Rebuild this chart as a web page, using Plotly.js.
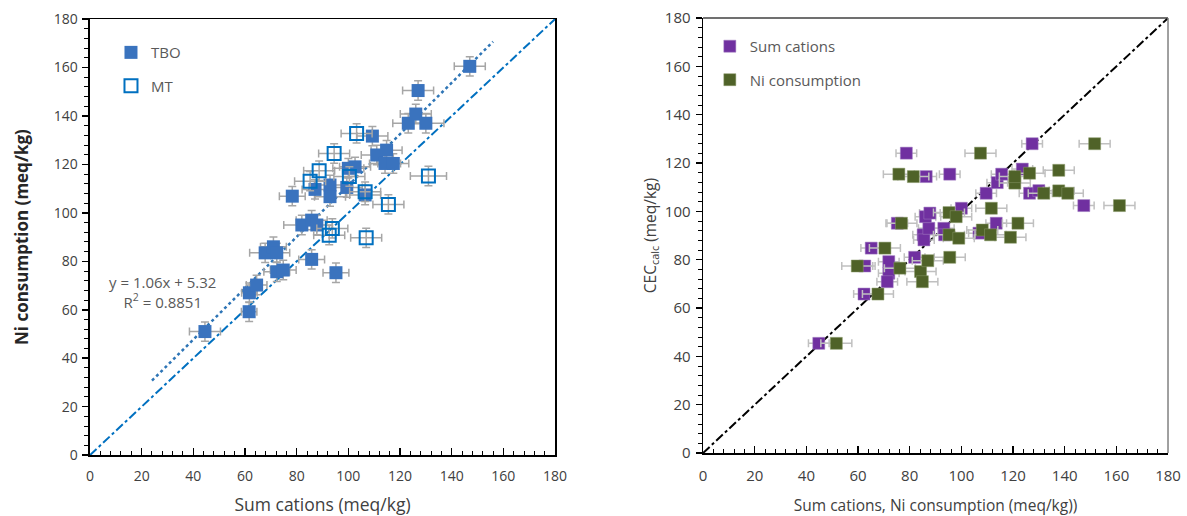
<!DOCTYPE html>
<html>
<head>
<meta charset="utf-8">
<script src="https://cdn.plot.ly/plotly-3.0.1.min.js"></script>
<style>html,body{margin:0;padding:0;background:#fff;}#chart{width:1187px;height:516px;}</style>
</head>
<body>
<div id="chart"></div>
<script>
// ---- Left panel: Ni consumption vs Sum cations ----
const tboSum = [44.5, 61.6, 61.7, 64.5, 67.8, 71.0, 72.3, 72.3, 74.8, 78.3, 82.0, 85.8, 87.8, 85.8, 95.2, 87.1, 92.9, 92.9, 99.4, 106.5, 100.0, 102.6, 109.3, 111.0, 114.8, 114.2, 117.4, 123.2, 126.1, 130.0, 127.0, 147.0];
const tboNi  = [51.0, 59.2, 67.0, 70.2, 83.5, 86.0, 83.5, 75.7, 76.4, 106.9, 95.0, 97.0, 95.0, 80.8, 75.3, 109.7, 111.5, 106.7, 110.5, 107.4, 118.4, 119.0, 131.7, 123.9, 125.9, 120.4, 120.4, 137.0, 140.8, 137.0, 150.5, 160.5];
const tboSumErr = [6, 3, 3, 4, 6, 5, 5, 5, 5, 5, 7, 6, 6, 5, 5, 5, 6, 6, 6, 6, 6, 6, 6, 6, 6, 6, 6, 6, 6, 7, 6, 6];
const tboNiErr  = [4, 4, 4, 4, 4, 4, 4, 4, 4, 4, 4, 4, 4, 4, 4, 4, 4, 4, 4, 4, 4, 4, 4, 4, 4, 4, 4, 4, 4, 4, 4, 4];
const mtSum = [85.2, 88.7, 94.5, 103.2, 100.4, 106.5, 115.5, 131.0, 93.8, 92.6, 106.9];
const mtNi  = [113.1, 117.4, 124.5, 132.8, 115.0, 108.7, 103.5, 115.2, 93.6, 90.8, 89.7];
const mtSumErr = [6, 6, 6, 6, 6, 6, 6, 7, 6, 6, 6];
const mtNiErr  = [4, 4, 4, 4, 4, 4, 4, 4, 4, 4, 4];
const trendSlope = 1.06, trendIntercept = 5.32, trendR2 = 0.8851;
const trendX = [24, 156];
const oneToOne = [0, 180];

// ---- Right panel: CEC_calc vs Sum cations / Ni consumption ----
const cecSumX = [44.8, 62.3, 62.6, 65.1, 71.9, 71.9, 71.3, 75.2, 78.7, 81.9, 85.2, 85.5, 87.4, 86.1, 87.8, 86.4, 93.2, 93.5, 95.5, 100.0, 106.8, 109.6, 113.5, 113.9, 115.6, 123.6, 126.4, 130.0, 127.4, 147.4];
const cecSumY = [45.4, 65.8, 77.4, 84.8, 79.2, 74.4, 70.9, 95.1, 124.1, 81.0, 90.3, 88.2, 93.0, 97.8, 99.3, 114.4, 93.0, 90.3, 115.4, 101.3, 91.0, 107.5, 95.1, 111.9, 115.4, 117.5, 107.5, 108.6, 128.0, 102.4];
const cecNiX = [51.6, 67.7, 59.7, 70.4, 76.2, 84.2, 84.9, 76.8, 107.4, 87.0, 95.5, 95.2, 99.0, 95.2, 98.0, 81.4, 75.8, 111.6, 108.1, 111.3, 119.0, 121.9, 120.7, 120.7, 126.4, 137.7, 131.9, 137.7, 141.2, 151.6, 161.2];
const cecNiY = [45.4, 65.8, 77.4, 84.8, 76.5, 75.1, 70.9, 95.1, 124.1, 79.6, 81.0, 90.3, 88.9, 99.5, 97.8, 114.4, 115.4, 101.3, 92.3, 90.3, 89.3, 95.1, 111.7, 114.4, 115.8, 117.0, 107.5, 108.5, 107.5, 128.0, 102.4];
const cecSumErr = 4;
const cecNiErr = 6;

const FONT = 'Open Sans, Noto Sans, sans-serif';
const errStyle = {color: '#a6a6a6', thickness: 1.5, width: 4};

const traces = [
  {x: trendX, y: trendX.map(v => trendSlope * v + trendIntercept), xaxis: 'x', yaxis: 'y', mode: 'lines',
   line: {color: '#2E75B6', width: 2.5, dash: 'dot'}, showlegend: false, hoverinfo: 'skip'},
  {x: oneToOne, y: oneToOne, xaxis: 'x', yaxis: 'y', mode: 'lines',
   line: {color: '#0070C0', width: 2, dash: 'dashdot'}, showlegend: false, hoverinfo: 'skip'},
  {name: 'TBO', x: tboSum, y: tboNi, xaxis: 'x', yaxis: 'y', type: 'scatter', mode: 'markers',
   marker: {symbol: 'square', size: 13, color: '#3A73BE'},
   error_x: Object.assign({type: 'data', array: tboSumErr}, errStyle),
   error_y: Object.assign({type: 'data', array: tboNiErr}, errStyle),
   legend: 'legend', legendgroup: 'a'},
  {name: 'MT', x: mtSum, y: mtNi, xaxis: 'x', yaxis: 'y', type: 'scatter', mode: 'markers',
   marker: {symbol: 'square-open', size: 13, color: '#0070C0', line: {width: 2, color: '#0070C0'}},
   error_x: Object.assign({type: 'data', array: mtSumErr}, errStyle),
   error_y: Object.assign({type: 'data', array: mtNiErr}, errStyle),
   legend: 'legend', legendgroup: 'b'},
  {x: oneToOne, y: oneToOne, xaxis: 'x2', yaxis: 'y2', mode: 'lines',
   line: {color: '#000000', width: 2, dash: 'dashdot'}, showlegend: false, hoverinfo: 'skip'},
  {name: 'Sum cations', x: cecSumX, y: cecSumY, xaxis: 'x2', yaxis: 'y2', type: 'scatter', mode: 'markers',
   marker: {symbol: 'square', size: 12, color: '#7030A0', line: {width: 0.5, color: '#a07cc0'}},
   error_x: Object.assign({type: 'constant', value: cecSumErr}, errStyle, {color: '#c0c0c0'}),
   legend: 'legend2', legendgroup: 'c'},
  {name: 'Ni consumption', x: cecNiX, y: cecNiY, xaxis: 'x2', yaxis: 'y2', type: 'scatter', mode: 'markers',
   marker: {symbol: 'square', size: 12, color: '#4F6228', line: {width: 0.5, color: '#8a9a6a'}},
   error_x: Object.assign({type: 'constant', value: cecNiErr}, errStyle, {color: '#c0c0c0'}),
   legend: 'legend2', legendgroup: 'd'}
];

function xAx(domain, anchor, titleText, titleSize, standoff, mirror, tsize) {
  return {domain: domain, anchor: anchor, range: [0, 180], dtick: 20, tick0: 0,
    ticks: 'inside', ticklen: 7, tickwidth: 1.5, tickcolor: '#000',
    minor: {dtick: 4, ticks: 'inside', ticklen: 4, tickwidth: 1, tickcolor: '#000'},
    showline: true, linecolor: '#000', linewidth: 1.5, mirror: mirror,
    showgrid: false, zeroline: false, tickfont: {family: FONT, size: tsize, color: '#404040'}, ticklabelstandoff: 8,
    title: {text: titleText, font: {family: FONT, size: titleSize, color: '#404040'}, standoff: standoff}};
}
function yAx(domain, anchor, titleText, titleFont, standoff, mirror, tsize) {
  return {domain: domain, anchor: anchor, range: [0, 180], dtick: 20, tick0: 0,
    ticks: 'outside', ticklen: 6, tickwidth: 1.5, tickcolor: '#000',
    minor: {dtick: 4, ticks: 'outside', ticklen: 4, tickwidth: 1, tickcolor: '#000'},
    showline: true, linecolor: '#000', linewidth: 1.5, mirror: mirror,
    showgrid: false, zeroline: false, tickfont: {family: FONT, size: tsize, color: '#404040'}, ticklabelstandoff: 2,
    title: {text: titleText, font: titleFont, standoff: standoff}};
}

const layout = {
  width: 1187, height: 516,
  margin: {l: 0, r: 0, t: 0, b: 0},
  paper_bgcolor: '#fff', plot_bgcolor: '#fff',
  font: {family: FONT},
  xaxis: xAx([0.0758, 0.4676], 'y', 'Sum cations (meq/kg)', 17.5, 15, true, 14),
  yaxis: yAx([0.118, 0.963], 'x', '<b>Ni consumption (meq/kg)</b>', {family: FONT, size: 17, color: '#262626'}, 20, true, 14),
  xaxis2: xAx([0.5923, 0.984], 'y2', 'Sum cations, Ni consumption (meq/kg))', 15.5, 17, false, 15),
  yaxis2: yAx([0.122, 0.965], 'x2', 'CEC<sub>calc</sub> (meq/kg)', {family: FONT, size: 15.5, color: '#404040'}, 4, false, 15),
  legend: {x: 0.0935, y: 0.93, xanchor: 'left', yanchor: 'top', bgcolor: 'rgba(0,0,0,0)',
    font: {family: FONT, size: 15, color: '#595959'}, tracegroupgap: 11, itemwidth: 30},
  legend2: {x: 0.598, y: 0.942, xanchor: 'left', yanchor: 'top', bgcolor: 'rgba(0,0,0,0)',
    font: {family: FONT, size: 15, color: '#595959'}, tracegroupgap: 11, itemwidth: 30},
  shapes: [
    {type: 'line', xref: 'x2 domain', yref: 'y2 domain', x0: 0, x1: 1, y0: 1, y1: 1, line: {color: '#404040', width: 1.5}},
    {type: 'line', xref: 'x2 domain', yref: 'y2 domain', x0: 1, x1: 1, y0: 0, y1: 1, line: {color: '#808080', width: 1.5}}
  ],
  annotations: [
    {xref: 'x', yref: 'y', x: 27.9, y: 67.3, showarrow: false, align: 'center',
     text: 'y = ' + trendSlope.toFixed(2) + 'x + ' + trendIntercept.toFixed(2) + '<br>R<sup>2</sup> = ' + trendR2.toFixed(4),
     font: {family: FONT, size: 15, color: '#595959'}}
  ]
};

Plotly.newPlot('chart', traces, layout, {displayModeBar: false, staticPlot: true});
</script>
</body>
</html>
